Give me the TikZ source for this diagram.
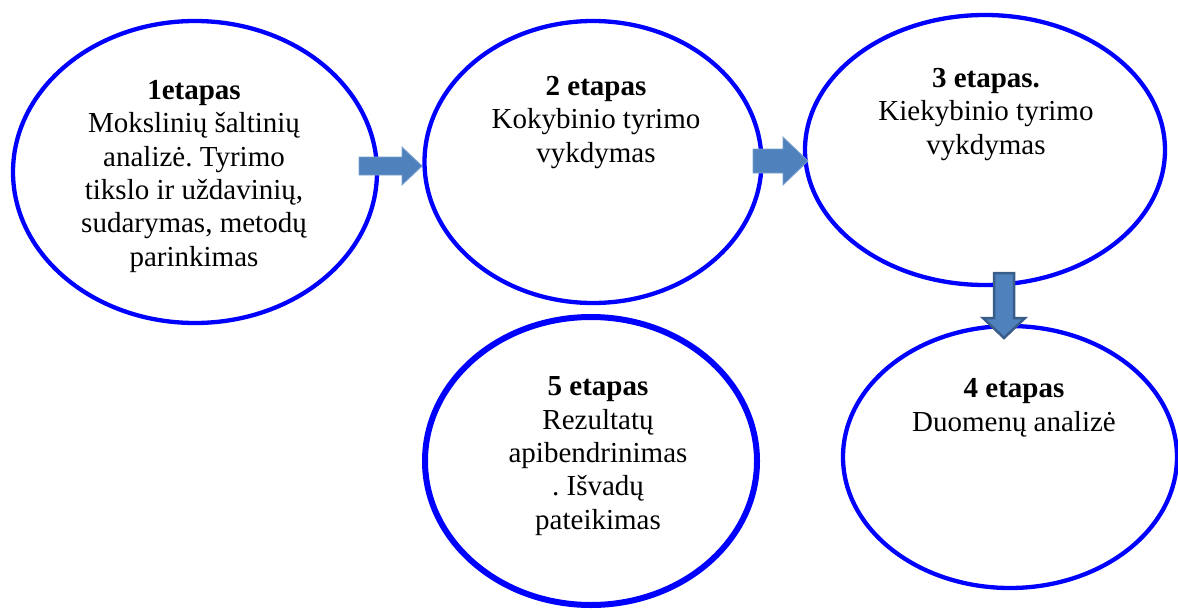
\documentclass[tikz,border=0pt]{standalone}
\usepackage{fontspec}
\setmainfont{Liberation Serif}
\frenchspacing
\usetikzlibrary{shapes.geometric}
\definecolor{ringblue}{HTML}{0000FF}
\definecolor{arrowfill}{HTML}{4F81BD}
\definecolor{arrowedge}{HTML}{385D8A}
\begin{document}
\begin{tikzpicture}[x=1pt,y=-1pt,
  stage/.style={ellipse, draw=ringblue, line width=4.3pt, inner sep=0pt, outer sep=0pt},
  % multi-line text: the base anchor sits on the last line's baseline
  stagetext/.style={anchor=base, align=center, inner sep=0pt,
    font=\fontsize{29}{33.3}\selectfont},
  blockarrow/.style={fill=arrowfill, draw=arrowfill!75!white, line width=0.8pt},
  downarrow/.style={fill=arrowfill, draw=arrowedge, line width=2.5pt, line join=miter}]
\useasboundingbox (0,0) rectangle (1178,610);
\clip (0,0) rectangle (1178,610);

% stage ellipses
\node[stage, minimum width=364pt, minimum height=302pt] (e1) at (195,172) {};
\node[stage, minimum width=337pt, minimum height=282pt] (e2) at (593,162) {};
\node[stage, minimum width=360pt, minimum height=270pt] (e3) at (985,150) {};
\node[stage, minimum width=334pt, minimum height=262pt] (e4) at (1010,457) {};
\node[stage, line width=6pt, minimum width=332pt, minimum height=288pt] (e5) at (591,461) {};

% stage texts
\node[stagetext] (t1) at (194,266) {\textbf{1etapas}\\Mokslinių šaltinių\\analizė. Tyrimo\\tikslo ir uždavinių,\\sudarymas, metodų\\parinkimas};
\node[stagetext] (t2) at (596,162) {\textbf{2 etapas}\\Kokybinio tyrimo\\vykdymas};
\node[stagetext] (t3) at (986,154) {\textbf{3 etapas.}\\Kiekybinio tyrimo\\vykdymas};
\node[stagetext] (t4) at (1014,431) {\textbf{4 etapas}\\Duomenų analizė};
\node[stagetext] (t5) at (598,529) {\textbf{5 etapas}\\Rezultatų\\apibendrinimas\\. Išvadų\\pateikimas};

% block arrows between stages
\path[blockarrow] (359,157) -- (402,157) -- (402,147) -- (422,166) -- (402,185) -- (402,175) -- (359,175) -- cycle;
\path[blockarrow] (753,149) -- (783,149) -- (783,137) -- (808,161) -- (783,185) -- (783,173) -- (753,173) -- cycle;
\path[downarrow] (994,273) -- (1014,273) -- (1014,318) -- (1025,318) -- (1004,338) -- (983,318) -- (994,318) -- cycle;
\end{tikzpicture}
\end{document}
